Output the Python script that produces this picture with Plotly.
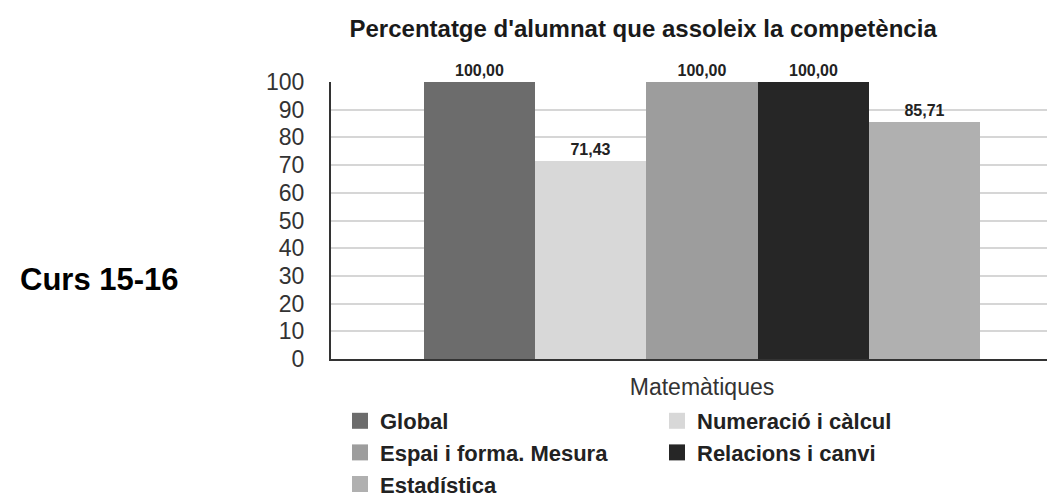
import plotly.graph_objects as go

# data
category = ["Matemàtiques"]
series_names = [
    "Global",
    "Numeració i càlcul",
    "Espai i forma. Mesura",
    "Relacions i canvi",
    "Estadística",
]
series_values = [100.00, 71.43, 100.00, 100.00, 85.71]
series_colors = ["#6c6c6c", "#d8d8d8", "#9d9d9d", "#262626", "#b0b0b0"]
y_ticks = list(range(0, 101, 10))

FONT = "Liberation Sans, Arial, sans-serif"

fig = go.Figure()
for name, val, col in zip(series_names, series_values, series_colors):
    fig.add_trace(
        go.Bar(
            x=category,
            y=[val],
            name=name,
            legendgroup=name,
            showlegend=False,
            marker=dict(color=col, line=dict(width=0)),
            texttemplate="%{y:.2f}",
            textposition="outside",
            textfont=dict(family=FONT, size=16, color="#222222", weight="bold"),
            cliponaxis=False,
        )
    )

# legend-only entries so the swatches can be a bit larger than bar icons
for name, col in zip(series_names, series_colors):
    fig.add_trace(
        go.Scatter(
            x=category,
            y=[None],
            name=name,
            legendgroup=name,
            mode="markers",
            marker=dict(symbol="square", size=16, color=col),
            hoverinfo="skip",
        )
    )

fig.update_layout(
    width=1055,
    height=497,
    paper_bgcolor="white",
    plot_bgcolor="white",
    barmode="group",
    bargap=0,
    bargroupgap=0,
    separators=",.",
    margin=dict(l=323, r=0, t=74, b=111),
    font=dict(family=FONT, color="#333333"),
    title=dict(
        text="Percentatge d'alumnat que assoleix la competència",
        x=0.602,
        xanchor="center",
        y=0.958,
        yanchor="middle",
        font=dict(family=FONT, size=24, color="#1a1a1a", weight="bold"),
    ),
    xaxis=dict(
        range=[-0.667, 0.649],
        showgrid=False,
        showline=True,
        linecolor="#333333",
        linewidth=2,
        ticks="",
        ticklabelstandoff=6,
        tickfont=dict(size=23, color="#333333"),
    ),
    yaxis=dict(
        range=[0, 100],
        tickvals=y_ticks,
        showgrid=True,
        gridcolor="#d6d6d6",
        gridwidth=1.5,
        showline=True,
        linecolor="#333333",
        linewidth=2,
        zeroline=False,
        ticks="",
        ticklabelstandoff=20,
        tickfont=dict(size=23, color="#333333"),
    ),
    legend=dict(
        orientation="h",
        x=(332 - 323) / 732,
        xanchor="left",
        y=-0.15,
        yanchor="top",
        entrywidth=272,
        traceorder="normal",
        itemsizing="trace",
        font=dict(family=FONT, size=22, color="#222222", weight="bold"),
        tracegroupgap=0,
    ),
    showlegend=True,
)

fig.add_annotation(
    text="Curs 15-16",
    xref="paper",
    yref="paper",
    x=(10 - 323) / 732,
    xanchor="left",
    y=(386 - 297) / 312,
    yanchor="middle",
    showarrow=False,
    font=dict(family=FONT, size=31, color="#000000", weight="bold"),
)

fig.write_html("out.html")
